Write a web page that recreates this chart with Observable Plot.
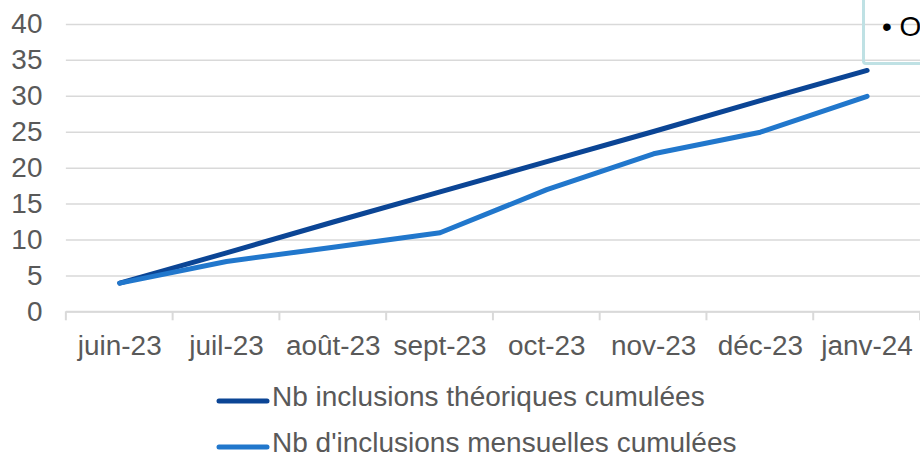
<!DOCTYPE html>
<html>
<head>
<meta charset="utf-8">
<script src="https://cdn.jsdelivr.net/npm/d3@7"></script>
<script src="https://cdn.jsdelivr.net/npm/@observablehq/plot@0.6"></script>
<style>
  html, body { margin: 0; padding: 0; background: #fff; overflow: hidden; width: 920px; height: 458px; }
  #wrap { position: relative; width: 920px; height: 458px; overflow: hidden; font-family: "Liberation Sans", Arial, sans-serif; }
  #chart svg { display: block; }
  .legend { position: absolute; left: 216px; top: 374px; color: #595959; font-size: 28px; }
  .row { display: flex; align-items: center; height: 46px; line-height: 46px; white-space: nowrap; }
  .row svg { transform: translateY(4px); margin-right: 2px; }
  .note { position: absolute; left: 862px; top: -20px; width: 120px; height: 79px; border: 3px solid #bfe1e4; border-radius: 4px; }
  .note span { position: absolute; left: 17px; top: 28px; font-size: 28px; color: #000; white-space: nowrap; line-height: 32px; }
</style>
</head>
<body>
<div id="wrap">
  <div id="chart"></div>
  <div class="legend" id="legend"></div>
  <div class="note"><span>• Objectif</span></div>
</div>
<script>
const months = ["juin-23", "juil-23", "août-23", "sept-23", "oct-23", "nov-23", "déc-23", "janv-24"];
const theoriques = [4, 8.2, 12.5, 16.7, 20.9, 25.1, 29.4, 33.6];
const mensuelles = [4, 7, 9, 11, 17, 22, 25, 30];
const yTicks = [0, 5, 10, 15, 20, 25, 30, 35, 40];
const seriesNames = ["Nb inclusions théoriques cumulées", "Nb d'inclusions mensuelles cumulées"];
const seriesColors = ["#0b4595", "#2177cc"];

const dataTheo = months.map((m, i) => ({month: m, value: theoriques[i]}));
const dataMens = months.map((m, i) => ({month: m, value: mensuelles[i]}));

const chart = Plot.plot({
  width: 922,
  height: 370,
  marginLeft: 66,
  marginRight: 0,
  marginTop: 24,
  marginBottom: 58,
  style: {fontFamily: "'Liberation Sans', Arial, sans-serif", fontSize: "28px", color: "#595959", background: "transparent"},
  x: {type: "band", domain: months, padding: 0},
  y: {domain: [0, 40]},
  marks: [
    Plot.gridY(yTicks, {stroke: "#d9d9d9", strokeOpacity: 1, strokeWidth: 1.5}),
    Plot.ruleY([0], {stroke: "#d9d9d9", strokeWidth: 2}),
    Plot.axisY(yTicks, {tickSize: 0, tickPadding: 24, label: null, fill: "#595959"}),
    Plot.axisX({tickSize: 0, tickPadding: 23, label: null, fill: "#595959"}),
    Plot.line(dataTheo, {x: "month", y: "value", stroke: seriesColors[0], strokeWidth: 5, strokeLinecap: "round", strokeLinejoin: "round"}),
    Plot.line(dataMens, {x: "month", y: "value", stroke: seriesColors[1], strokeWidth: 5, strokeLinecap: "round", strokeLinejoin: "round"})
  ]
});
document.getElementById("chart").appendChild(chart);

// band boundary tick marks below the baseline, placed with the x scale
const xs = chart.scale("x");
const ys = chart.scale("y");
const y0 = ys.apply(0);
const bounds = months.map(m => xs.apply(m)).concat([xs.range[1]]);
d3.select(chart).append("g")
  .selectAll("line").data(bounds).join("line")
  .attr("x1", d => d).attr("x2", d => d)
  .attr("y1", y0).attr("y2", y0 + 9)
  .attr("stroke", "#d9d9d9").attr("stroke-width", 2);

// legend
const legend = d3.select("#legend");
seriesNames.forEach((name, i) => {
  const row = legend.append("div").attr("class", "row");
  const sw = row.append("svg").attr("width", 54).attr("height", 10);
  sw.append("line").attr("x1", 3).attr("x2", 51).attr("y1", 5).attr("y2", 5)
    .attr("stroke", seriesColors[i]).attr("stroke-width", 5).attr("stroke-linecap", "round");
  row.append("span").text(name);
});
</script>
</body>
</html>
